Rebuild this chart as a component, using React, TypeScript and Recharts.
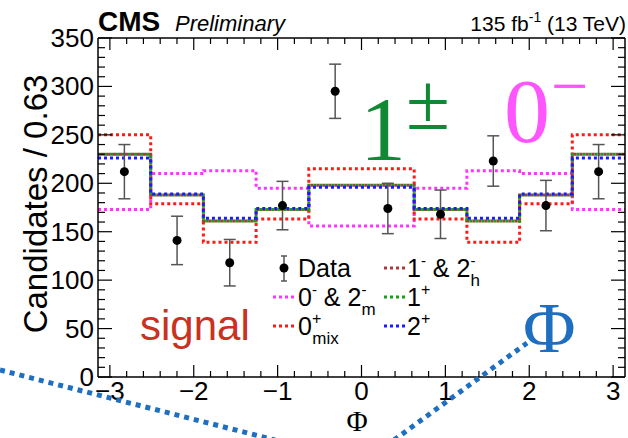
import { ComposedChart, Line, Scatter, ErrorBar, XAxis, YAxis } from 'recharts';

// bin edges of Phi (10 bins of 0.63 between -pi and pi)
const binEdges = [-3.1416, -2.5133, -1.885, -1.2566, -0.6283, 0, 0.6283, 1.2566, 1.885, 2.5133, 3.1416];
const binCenters = [-2.827, -2.199, -1.571, -0.942, -0.314, 0.314, 0.942, 1.571, 2.199, 2.827];

const dataValues = [212, 141, 118, 177, 295, 174, 168, 223, 177, 212];
const dataErrors = [28, 25, 24, 25, 28, 26, 25, 26, 26, 28];

const zeroMinus = [173, 210, 213, 195, 156, 156, 195, 213, 210, 173];
const zeroMix = [250, 179, 139, 163, 215, 215, 163, 139, 179, 250];
const oneMinus = [230, 188, 161, 173, 198, 198, 173, 161, 188, 230];
const onePlus = [230, 188, 161, 173, 198, 198, 173, 161, 188, 230];
const twoPlus = [226, 189, 164, 174, 196, 196, 174, 164, 189, 226];

const xMajorTicks = [-3, -2, -1, 0, 1, 2, 3];
const yMajorTicks = [0, 50, 100, 150, 200, 250, 300, 350];

const xTicks = Array.from({ length: 31 }, (_, i) => Math.round((-3 + 0.2 * i) * 10) / 10);
const yTicks = Array.from({ length: 36 }, (_, i) => i * 10);

const histRows = binEdges.map((x, i) => {
  const k = Math.min(i, 9);
  return {
    x,
    zeroMinus: zeroMinus[k],
    zeroMix: zeroMix[k],
    oneMinus: oneMinus[k],
    onePlus: onePlus[k],
    twoPlus: twoPlus[k],
  };
});

const pointRows = binCenters.map((x, i) => ({ x, y: dataValues[i], err: dataErrors[i] }));

const FONT = '"Liberation Sans", Arial, sans-serif';
const SERIF = '"Liberation Serif", "Times New Roman", serif';

const fmt = (v: number) => (v < 0 ? '\u2212' + Math.abs(v) : String(v));

const BottomTick = (props: any) => {
  const { x, y, payload } = props;
  const major = xMajorTicks.includes(payload.value);
  return (
    <g>
      <line x1={x} x2={x} y1={y} y2={y - (major ? 12 : 6)} stroke="#000" strokeWidth={1.2} />
      {major && (
        <text x={x} y={y + 23} textAnchor="middle" fontSize={26} fontFamily={FONT} fill="#000">
          {fmt(payload.value)}
        </text>
      )}
    </g>
  );
};

const TopTick = (props: any) => {
  const { x, y, payload } = props;
  const major = xMajorTicks.includes(payload.value);
  return <line x1={x} x2={x} y1={y} y2={y + (major ? 12 : 6)} stroke="#000" strokeWidth={1.2} />;
};

const LeftTick = (props: any) => {
  const { x, y, payload } = props;
  const major = yMajorTicks.includes(payload.value);
  return (
    <g>
      <line x1={x} x2={x + (major ? 14 : 7)} y1={y} y2={y} stroke="#000" strokeWidth={1.2} />
      {major && (
        <text x={x - 4} y={y + 9} textAnchor="end" fontSize={26} fontFamily={FONT} fill="#000">
          {payload.value}
        </text>
      )}
    </g>
  );
};

const RightTick = (props: any) => {
  const { x, y, payload } = props;
  const major = yMajorTicks.includes(payload.value);
  return <line x1={x} x2={x - (major ? 14 : 7)} y1={y} y2={y} stroke="#000" strokeWidth={1.2} />;
};

const Dot = (props: any) => <circle cx={props.cx} cy={props.cy} r={4.5} fill="#000" />;

const histStyle = { strokeWidth: 3, strokeDasharray: '3 3' };

const LegendSample = ({ x, y, color }: { x: number; y: number; color: string }) => (
  <line x1={x} x2={x + 22} y1={y} y2={y} stroke={color} strokeWidth={3} strokeDasharray="3 3" />
);

export default function App() {
  return (
    <div style={{ position: 'absolute', left: 0, top: 0, width: 628, height: 438, background: '#fff' }}>
      <ComposedChart width={628} height={438} margin={{ top: 37, right: 0, bottom: 0, left: 0 }}>
        <XAxis
          dataKey="x"
          type="number"
          domain={[-Math.PI, Math.PI]}
          allowDataOverflow
          ticks={xTicks}
          interval={0}
          height={61}
          tickSize={0}
          tickMargin={0}
          tickLine={false}
          tick={<BottomTick />}
          axisLine={{ stroke: '#000', strokeWidth: 1.5 }}
        />
        <XAxis
          xAxisId="top"
          orientation="top"
          dataKey="x"
          type="number"
          domain={[-Math.PI, Math.PI]}
          allowDataOverflow
          ticks={xTicks}
          interval={0}
          height={1}
          tickSize={0}
          tickMargin={0}
          tickLine={false}
          tick={<TopTick />}
          axisLine={{ stroke: '#000', strokeWidth: 1.5 }}
        />
        <YAxis
          type="number"
          domain={[0, 350]}
          allowDataOverflow
          ticks={yTicks}
          interval={0}
          width={98}
          tickSize={0}
          tickMargin={0}
          tickLine={false}
          tick={<LeftTick />}
          axisLine={{ stroke: '#000', strokeWidth: 1.5 }}
        />
        <YAxis
          yAxisId="right"
          orientation="right"
          type="number"
          domain={[0, 350]}
          allowDataOverflow
          ticks={yTicks}
          interval={0}
          width={3}
          tickSize={0}
          tickMargin={0}
          tickLine={false}
          tick={<RightTick />}
          axisLine={{ stroke: '#000', strokeWidth: 1.5 }}
        />
        <Line data={histRows} dataKey="zeroMix" xAxisId="top" yAxisId="right" stroke="none" dot={false} isAnimationActive={false} />
        <Line data={histRows} dataKey="zeroMinus" type="stepAfter" stroke="#ff33ff" {...histStyle} dot={false} isAnimationActive={false} />
        <Line data={histRows} dataKey="zeroMix" type="stepAfter" stroke="#ff1a1a" {...histStyle} dot={false} isAnimationActive={false} />
        <Line data={histRows} dataKey="oneMinus" type="stepAfter" stroke="#a83c3c" {...histStyle} strokeDashoffset={3} dot={false} isAnimationActive={false} />
        <Line data={histRows} dataKey="onePlus" type="stepAfter" stroke="#1e9a1e" {...histStyle} dot={false} isAnimationActive={false} />
        <Line data={histRows} dataKey="twoPlus" type="stepAfter" stroke="#1a1aff" {...histStyle} dot={false} isAnimationActive={false} />
        <Scatter data={pointRows} dataKey="y" fill="#000" shape={<Dot />} isAnimationActive={false}>
          <ErrorBar dataKey="err" direction="y" width={6} stroke="#555" strokeWidth={1.5} isAnimationActive={false} />
        </Scatter>
      </ComposedChart>

      <svg width={628} height={438} style={{ position: 'absolute', left: 0, top: 0, pointerEvents: 'none' }}>
        {/* header */}
        <text x={98} y={31} fontSize={28} fontWeight="bold" fontFamily={FONT}>CMS</text>
        <text x={175} y={31} fontSize={22} fontStyle="italic" fontFamily={FONT}>Preliminary</text>
        <text x={626} y={31} fontSize={21} textAnchor="end" fontFamily={FONT}>
          135 fb<tspan dy={-9} fontSize={14}>-1</tspan>
          <tspan dy={9}> (13 TeV)</tspan>
        </text>

        {/* axis titles */}
        <text x={47} y={204} fontSize={33} textAnchor="middle" fontFamily={FONT} transform="rotate(-90 47 204)">
          Candidates / 0.63
        </text>
        <text x={357} y={431} fontSize={29} textAnchor="middle" fontFamily={SERIF}>Φ</text>

        {/* legend */}
        <line x1={284} x2={284} y1={256} y2={281} stroke="#555" strokeWidth={1.5} />
        <line x1={281} x2={287} y1={256} y2={256} stroke="#555" strokeWidth={1.5} />
        <line x1={281} x2={287} y1={281} y2={281} stroke="#555" strokeWidth={1.5} />
        <circle cx={284} cy={268} r={4.5} fill="#000" />
        <text x={298} y={277} fontSize={25} fontFamily={FONT}>Data</text>

        <LegendSample x={384} y={268} color="#a83c3c" />
        <text x={407} y={277} fontSize={25} fontFamily={FONT}>
          1<tspan dy={-11} fontSize={15}>-</tspan>
          <tspan dy={11}> &amp; 2</tspan>
          <tspan dy={-11} fontSize={15}>-</tspan>
          <tspan dx={-5} dy={20} fontSize={17}>h</tspan>
        </text>

        <LegendSample x={273} y={297} color="#ff33ff" />
        <text x={298} y={306} fontSize={25} fontFamily={FONT}>
          0<tspan dy={-11} fontSize={15}>-</tspan>
          <tspan dy={11}> &amp; 2</tspan>
          <tspan dy={-11} fontSize={15}>-</tspan>
          <tspan dx={-5} dy={20} fontSize={17}>m</tspan>
        </text>

        <LegendSample x={384} y={297} color="#1e9a1e" />
        <text x={407} y={306} fontSize={25} fontFamily={FONT}>
          1<tspan dy={-11} fontSize={16}>+</tspan>
        </text>

        <LegendSample x={273} y={326} color="#ff1a1a" />
        <text x={298} y={335} fontSize={25} fontFamily={FONT}>
          0<tspan dy={-11} fontSize={16}>+</tspan>
          <tspan dx={-9} dy={20} fontSize={17}>mix</tspan>
        </text>

        <LegendSample x={384} y={326} color="#1a1aff" />
        <text x={407} y={335} fontSize={25} fontFamily={FONT}>
          2<tspan dy={-11} fontSize={16}>+</tspan>
        </text>

        {/* annotations */}
        <text x={360} y={160} fontSize={92} fontFamily={SERIF} fill="#118833">1</text>
        <text x={406} y={129} fontSize={80} fontFamily={SERIF} fill="#118833">±</text>
        <text x={504} y={142} fontSize={92} fontFamily={SERIF} fill="#ff55ff">0</text>
        <text x={551} y={108} fontSize={66} fontFamily={SERIF} fill="#ff55ff">−</text>
        <text x={140} y={340} fontSize={42} fontFamily={FONT} fill="#c8321e">signal</text>
        <text x={523} y={352} fontSize={72} fontFamily={SERIF} fill="#1f6fc0">Φ</text>

        <line x1={0} y1={370} x2={275} y2={440} stroke="#1f6fc0" strokeWidth={5} strokeDasharray="5 5" />
        <line x1={394} y1={440} x2={527} y2={343} stroke="#1f6fc0" strokeWidth={5} strokeDasharray="5 5" />
      </svg>
    </div>
  );
}
